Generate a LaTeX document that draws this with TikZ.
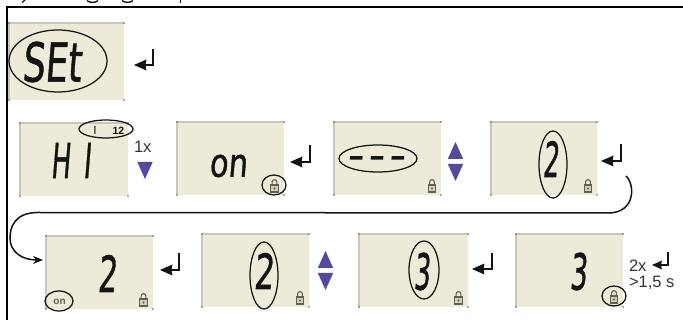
\documentclass[tikz,border=0pt]{standalone}
\usepackage{fontspec}
\usepackage{graphicx}
\usetikzlibrary{shapes.geometric,arrows.meta}
\setmainfont{Liberation Sans}
\newfontfamily\lcdfont{DejaVu Sans}[FakeBold=1.2]
\definecolor{lcdbg}{HTML}{EDEAD8}
\definecolor{lcdedge}{HTML}{C9C7BC}
\definecolor{keypurple}{HTML}{534A9E}
\definecolor{lockgrey}{HTML}{5F5F58}
\definecolor{inkblack}{HTML}{141414}
\tikzset{
  framerule/.style={line width=2pt,black},
  ring/.style={ellipse,draw=inkblack,line width=1.25pt,inner sep=0pt},
  lcdtext/.style={inner sep=0pt,outer sep=0pt,text=inkblack,xslant=0.08,transform shape,anchor=center},
  caption/.style={inner sep=0pt,outer sep=0pt,font=\fontsize{16.5}{17}\selectfont,text=black!80},
  keytri/.style={fill=keypurple,draw=none},
  flow/.style={line width=1.5pt,inkblack},
  enterline/.style={line width=2.2pt,inkblack},
  enterhead/.style={fill=inkblack,draw=none},
}
% screen x0 y0 x1 y1 name
\newcommand{\lcdscreen}[5]{%
  \node[fill=lcdbg,inner sep=0pt,outer sep=0pt,minimum width=#3pt-#1pt,minimum height=#4pt-#2pt,anchor=north west] (#5) at (#1,#2) {};
  \draw[lcdedge,line width=1.1pt] (#1,#4) -- (#1,#2) -- (#3,#2);
  \foreach \cx/\cy in {#1/#2,#3/#2,#1/#4,#3/#4}{\fill[black!60!lcdbg] (\cx,\cy) circle (0.8);}
}
% LCD text: centre x y, width, height, text, name
\newcommand{\lcdword}[6]{\node[lcdtext] (#6) at (#1,#2) {\resizebox{#3pt}{#4pt}{\lcdfont #5}};}
% lock at centre
\newcommand{\lockicon}[2]{%
  \begin{scope}[shift={(#1,#2)}]
    \draw[lockgrey,line width=1.1pt] (-2.4,-1) -- (-2.4,-4) arc[start angle=180,end angle=0,x radius=2.4,y radius=-2.4] -- (2.4,-1);
    \draw[lockgrey,line width=1.3pt,fill=lcdbg!80!lockgrey] (-3.8,-1) rectangle (3.8,6);
    \fill[lockgrey] (0,2.5) circle (1.1);
  \end{scope}}
\newcommand{\enterarrow}[5]{% name tipx tipy elbowx topy
  \coordinate (#1) at (#2,#3);
  \draw[enterline,line join=miter] (#2+8,#3) -- (#4,#3) -- (#4,#5);
  \fill[enterhead] (#1) -- (#2+12.5,#3-5.5) -- (#2+11.5,#3) -- (#2+12.5,#3+5.5) -- cycle;
}
\newcommand{\keytriangle}[3]{\fill[keytri] (#1,#2) -- (#1+7.7,#3) -- (#1-7.7,#3) -- cycle;}
\begin{document}
\begin{tikzpicture}[x=1pt,y=-1pt]
\useasboundingbox (0,0) rectangle (683,320);
\clip (0,0) rectangle (683,320);
\fill[white] (0,0) rectangle (683,320);
% clipped heading remnants
\draw[line width=1.3pt,black] (87,0.6) .. controls (90,3) and (95,3) .. (98,0.6);
\draw[line width=1.3pt,black] (122,0.6) .. controls (125,3) and (130,3) .. (133,0.6);
\draw[line width=1.5pt,black] (180.5,0) -- (180.5,3.5);
\draw[line width=1.2pt,black] (25,0) -- (22,2.5);
% frame
\draw[framerule] (7,320) -- (7,7) -- (683,7);
% screens
\lcdscreen{9}{23}{124}{100}{sset}
\lcdscreen{20}{123}{128}{196}{shi}
\lcdscreen{177}{122}{284}{195}{son}
\lcdscreen{334}{122}{441}{195}{sdash}
\lcdscreen{491}{122}{597}{195}{stwo}
\lcdscreen{46}{236}{153}{309}{rtwo}
\lcdscreen{202}{234}{309}{307}{rtwob}
\lcdscreen{359}{234}{468}{307}{rthree}
\lcdscreen{516}{234}{623}{307}{rthreeb}
% LCD words
\lcdword{53}{62}{59}{40}{SEt}{wset}
\lcdword{72}{160.5}{40}{35}{H\hspace{0.5em}I}{whi}
\lcdword{229}{166}{38}{22}{on}{won}
\lcdword{377}{158}{54}{3.5}{\rule{12pt}{4pt}\hspace{8pt}\rule{12pt}{4pt}\hspace{8pt}\rule{12pt}{4pt}}{wdash}
\lcdword{552}{159}{16}{36}{2}{wtwo}
\lcdword{108.5}{273.5}{19}{37}{2}{wrtwo}
\lcdword{265}{271}{20}{36}{2}{wrtwob}
\lcdword{423}{271.5}{16}{37}{3}{wthree}
\lcdword{579.5}{271.5}{17}{37}{3}{wthreeb}
\node[inner sep=0pt,text=inkblack,font=\fontsize{8.5}{9}\selectfont\bfseries] (hitick) at (95,130.5) {|};
\node[inner sep=0pt,text=inkblack,font=\fontsize{10.5}{11}\selectfont\bfseries] (hiday) at (118.5,130.5) {12};
\node[inner sep=0pt,text=lockgrey,font=\fontsize{10}{11}\selectfont\bfseries] (rton) at (59.5,302) {on};
% locks
\lockicon{274.5}{186}
\lockicon{432}{186}
\lockicon{588}{186}
\lockicon{143.5}{300}
\lockicon{300}{298}
\lockicon{458.5}{298}
\lockicon{614}{297}
% rings
\node[ring,minimum width=98pt,minimum height=62pt] (eset) at (58,61) {};
\node[ring,minimum width=54pt,minimum height=18pt] (ehi) at (106,129) {};
\node[ring,minimum width=24pt,minimum height=20pt] (eon) at (274,185) {};
\node[ring,minimum width=78pt,minimum height=27pt] (edash) at (378,158.5) {};
\node[ring,minimum width=28pt,minimum height=67pt] (etwo) at (553,164.5) {};
\node[ring,minimum width=28pt,minimum height=20pt] (ervon) at (59,301) {};
\node[ring,minimum width=28pt,minimum height=67pt] (ertwo) at (264,275.5) {};
\node[ring,minimum width=30pt,minimum height=58pt] (erthree) at (424,270) {};
\node[ring,minimum width=24pt,minimum height=20pt] (erlock) at (614,296) {};
% enter keys
\enterarrow{kset}{134}{65}{153}{49}
\enterarrow{kon}{290}{162}{310}{145}
\enterarrow{ktwo}{601}{161}{621}{144}
\enterarrow{krtwo}{160}{270}{179}{253}
\enterarrow{krthree}{472}{269}{492}{253}
\coordinate (kfin) at (652,265);
\draw[line width=2pt,inkblack] (660,265) -- (668,265) -- (668,252);
\fill[enterhead] (kfin) -- (662,260.5) -- (661,265) -- (662,269.5) -- cycle;
% triangles
\keytriangle{145}{179}{162}
\keytriangle{455.5}{142}{159}
\keytriangle{455.5}{181}{164}
\keytriangle{325.5}{251}{268}
\keytriangle{325.5}{290}{273}
% labels
\node[caption,anchor=west] (lone) at (134,147) {1x};
\node[caption,anchor=west] (ltwo) at (629,265.5) {2x};
\node[caption,anchor=west] (ltime) at (629,283) {>1,5 s};
% long connector
\coordinate (flowstart) at (626,176);
\coordinate (flowend) at (43,260);
\draw[flow,-{Stealth[length=10pt,width=8pt]}] (flowstart) .. controls (635,184) and (636,213) .. (608,213) -- (38,212.5) .. controls (14,212.5) and (10,228) .. (10,238) .. controls (10,252) and (22,260) .. (flowend);
\end{tikzpicture}
\end{document}
